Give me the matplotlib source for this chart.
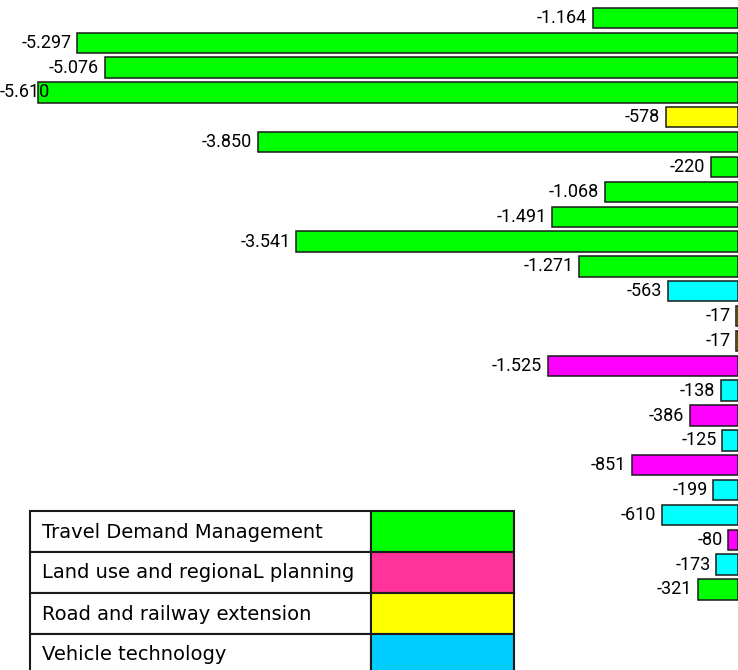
import matplotlib.pyplot as plt
from matplotlib.patches import Rectangle

# savings per measure, top to bottom
values = [-1164, -5297, -5076, -5610, -578, -3850, -220, -1068, -1491,
          -3541, -1271, -563, -17, -17, -1525, -138, -386, -125, -851,
          -199, -610, -80, -173, -321]
groups = ["tdm", "tdm", "tdm", "tdm", "road", "tdm", "tdm", "tdm", "tdm",
          "tdm", "tdm", "tech", "road", "road", "land", "tech", "land",
          "tech", "land", "tech", "tech", "land", "tech", "tdm"]

bar_colors = {"tdm": "#00ff00", "land": "#ff00ff",
              "road": "#ffff00", "tech": "#00ffff"}

legend_labels = ["Travel Demand Management", "Land use and regionaL planning",
                 "Road and railway extension", "Vehicle technology"]
legend_colors = ["#00ff00", "#ff3399", "#ffff00", "#00ccff"]


def fmt(v):
    # thousands separated with a dot
    return f"{v:,}".replace(",", ".")


fig = plt.figure(figsize=(7.38, 6.70), dpi=100)
ax = fig.add_axes([0, 0, 1, 1])

y = list(range(len(values)))
bars = ax.barh(y, values, height=0.82,
               color=[bar_colors[g] for g in groups],
               edgecolor="#1a1a1a", linewidth=1.1)

xmin = -5914
ax.set_xlim(xmin, 0)
ax.set_ylim(26.24, -0.72)
ax.axis("off")

for yi, v in zip(y, values):
    if v < -5500:
        # too long to fit a label on the left, keep it inside the figure
        ax.text(xmin, yi, fmt(v), ha="left", va="center",
                fontsize=13, family="Roboto")
    else:
        ax.annotate(fmt(v), (v, yi), xytext=(-4, 0),
                    textcoords="offset points", ha="right", va="center",
                    fontsize=13, family="Roboto")

# legend drawn as a two column table in pixel coordinates
lax = fig.add_axes([0, 0, 1, 1])
lax.set_xlim(0, 738)
lax.set_ylim(670, 0)
lax.axis("off")

x0, xm, x1 = 29.5, 370.5, 513.5
top, row_h = 510.5, 41
for i, (label, col) in enumerate(zip(legend_labels, legend_colors)):
    ty = top + i * row_h
    lax.add_patch(Rectangle((x0, ty), xm - x0, row_h, facecolor="white",
                            edgecolor="#1a1a1a", linewidth=1.5))
    lax.add_patch(Rectangle((xm, ty), x1 - xm, row_h, facecolor=col,
                            edgecolor="#1a1a1a", linewidth=1.5))
    lax.text(x0 + 13, ty + row_h / 2 + 1, label, ha="left", va="center",
             fontsize=14, family="DejaVu Sans")

fig.savefig("out.png", dpi=100)
